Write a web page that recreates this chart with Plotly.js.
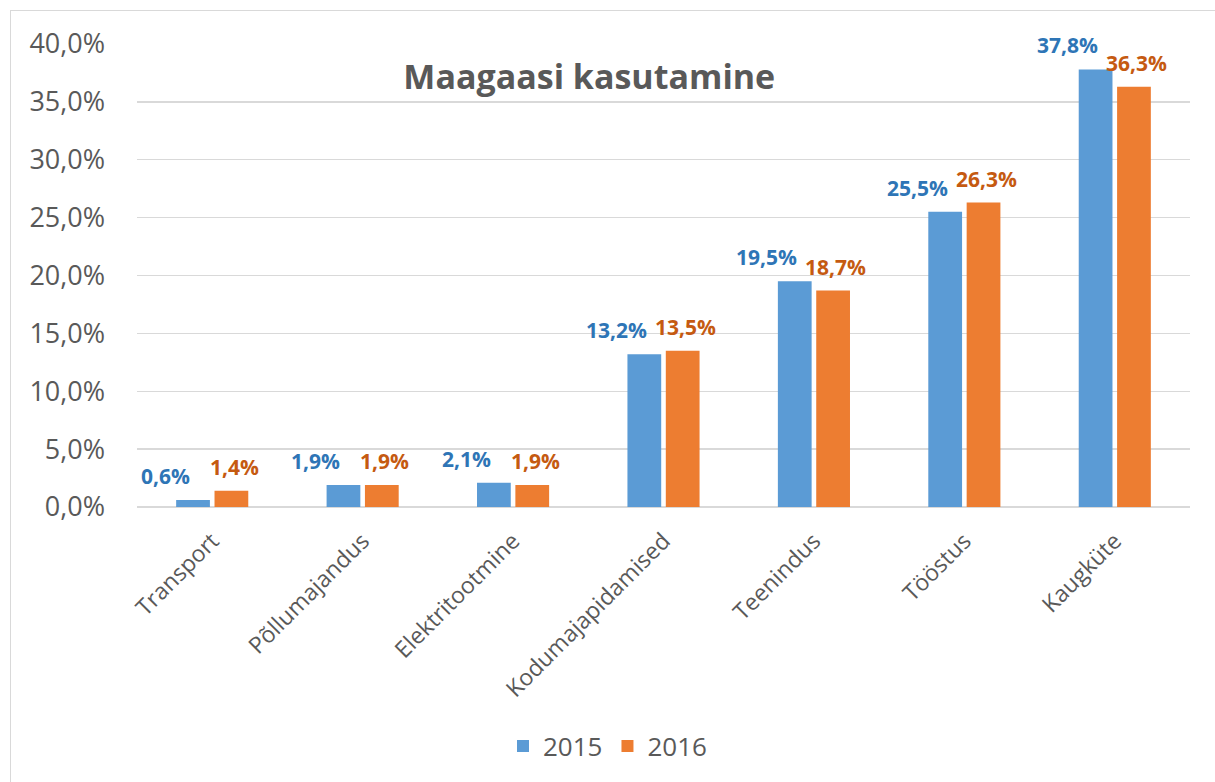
<!DOCTYPE html>
<html>
<head>
<meta charset="utf-8">
<script src="https://cdn.plot.ly/plotly-3.0.1.min.js"></script>
<style>
  html, body { margin: 0; padding: 0; overflow: hidden; background: #fff; }
  #chart { width: 1215px; height: 782px; }
  #frame { position: absolute; left: 10px; top: 10px; width: 1400px; height: 1000px;
           border: 1px solid #d9d9d9; pointer-events: none; }
</style>
</head>
<body>
<div id="chart"></div>
<div id="frame"></div>
<script>
const categories = ["Transport", "Põllumajandus", "Elektritootmine", "Kodumajapidamised", "Teenindus", "Tööstus", "Kaugküte"];
const values2015 = [0.6, 1.9, 2.1, 13.2, 19.5, 25.5, 37.8];
const values2016 = [1.4, 1.9, 1.9, 13.5, 18.7, 26.3, 36.3];
const seriesNames = ["2015", "2016"];
const yTicks = [0, 5, 10, 15, 20, 25, 30, 35, 40];

const FONT = "'Open Sans', sans-serif";
const GREY = "#595959";
const BLUE = "#5B9BD5", ORANGE = "#ED7D31";
const BLUE_TXT = "#2E75B6", ORANGE_TXT = "#C55A11";

const fmt = v => v.toFixed(1).replace(".", ",") + "%";

const traces = [
  { type: "bar", name: seriesNames[0], x: categories, y: values2015,
    marker: { color: BLUE }, hoverinfo: "skip", offsetgroup: "a" },
  { type: "bar", name: seriesNames[1], x: categories, y: values2016,
    marker: { color: ORANGE }, hoverinfo: "skip", offsetgroup: "b" }
];

const annotations = [];
categories.forEach((c, i) => {
  annotations.push({ x: c, y: values2015[i], xref: "x", yref: "y", text: "<b>" + fmt(values2015[i]) + "</b>",
    showarrow: false, xshift: -47, yshift: 24, yanchor: "middle",
    font: { family: FONT, size: 21, color: BLUE_TXT } });
  annotations.push({ x: c, y: values2016[i], xref: "x", yref: "y", text: "<b>" + fmt(values2016[i]) + "</b>",
    showarrow: false, xshift: 22, yshift: 24, yanchor: "middle",
    font: { family: FONT, size: 21, color: ORANGE_TXT } });
});

const layout = {
  width: 1215, height: 782,
  margin: { l: 137, r: 25, t: 44, b: 275 },
  paper_bgcolor: "#fff", plot_bgcolor: "#fff",
  font: { family: FONT, color: GREY },
  title: { text: "<b>Maagaasi kasutamine</b>", xref: "container", yref: "container",
           x: 0.485, xanchor: "center", y: 0.9015, yanchor: "middle",
           font: { family: FONT, size: 34, color: GREY } },
  barmode: "group", bargap: 0.49, bargroupgap: 0.12,
  xaxis: { type: "category", showgrid: false, zeroline: false, showline: false,
           tickangle: -45, ticks: "", ticklabelstandoff: 15,
           tickfont: { family: FONT, size: 23, color: GREY } },
  yaxis: { range: [0, 40], tickmode: "array", tickvals: yTicks, ticktext: yTicks.map(fmt),
           showgrid: true, gridcolor: "#d9d9d9", gridwidth: 1.3,
           zeroline: true, zerolinecolor: "#d9d9d9", zerolinewidth: 1.5,
           showline: false, ticks: "", ticklabelstandoff: 31,
           tickfont: { family: FONT, size: 27, color: GREY } },
  showlegend: true,
  legend: { orientation: "h", xref: "container", yref: "container",
            x: 0.5, xanchor: "center", y: 0.046, yanchor: "middle",
            font: { family: FONT, size: 26, color: GREY }, itemwidth: 30 },
  annotations: annotations
};

Plotly.newPlot("chart", traces, layout, { displayModeBar: false, staticPlot: true });
</script>
</body>
</html>
